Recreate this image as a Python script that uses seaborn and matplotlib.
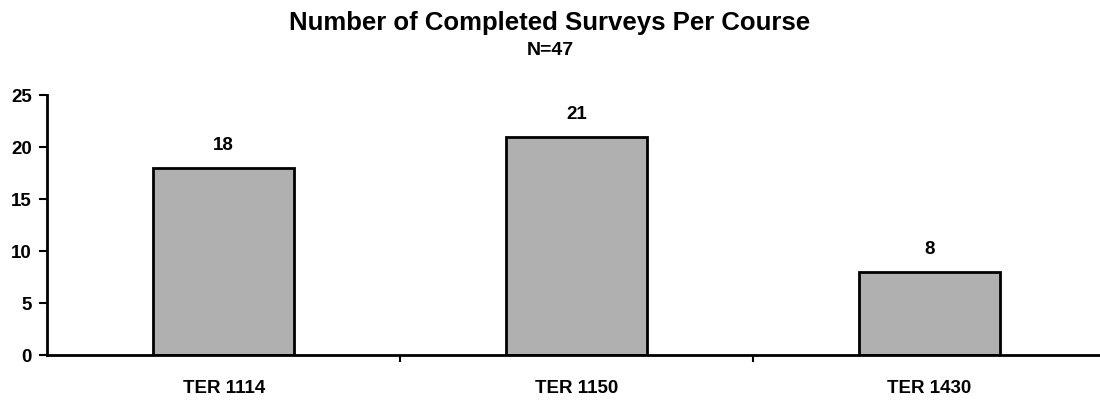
import matplotlib
matplotlib.use("Agg")
import matplotlib.pyplot as plt
import seaborn as sns
import pandas as pd

courses = ["TER 1114", "TER 1150", "TER 1430"]
surveys = [18, 21, 8]

df = pd.DataFrame({"course": courses, "surveys": surveys})

sns.set_style("white")
plt.rcParams["font.family"] = ["Liberation Sans", "DejaVu Sans"]
plt.rcParams["text.color"] = "black"
plt.rcParams["xtick.color"] = "black"
plt.rcParams["ytick.color"] = "black"

fig = plt.figure(figsize=(11, 4), dpi=100)
ax = fig.add_axes([0.043, 0.1125, 0.962, 0.65])

sns.barplot(data=df, x="course", y="surveys", color="#b0b0b0", width=0.4,
            edgecolor="black", linewidth=2, saturation=1, ax=ax)

for i, v in enumerate(surveys):
    ax.text(i, v + 1.3, str(v), ha="center", va="bottom", fontsize=13.5, fontweight="bold")

ax.set_xlim(-0.5, 2.5)
ax.set_ylim(0, 25)
ax.set_yticks([0, 5, 10, 15, 20, 25])
ax.set_xlabel("")
ax.set_ylabel("")
sns.despine(ax=ax)
for s in ["left", "bottom"]:
    ax.spines[s].set_linewidth(2)
    ax.spines[s].set_color("black")

ax.set_xticks([0.5, 1.5], minor=True)
ax.tick_params(axis="x", which="major", length=0, pad=18, labelsize=13.5)
ax.tick_params(axis="x", which="minor", length=5, width=1.5, direction="out", bottom=True)
ax.tick_params(axis="y", length=6, width=1.5, direction="out", left=True, labelsize=13.5, pad=5)
for lab in ax.get_xticklabels() + ax.get_yticklabels():
    lab.set_fontweight("bold")

fig.text(0.5, 0.942, "Number of Completed Surveys Per Course", ha="center", va="center",
         fontsize=18.5, fontweight="bold")
fig.text(0.5, 0.873, "N=47", ha="center", va="center", fontsize=14, fontweight="bold")

fig.savefig("out.png", dpi=100)
